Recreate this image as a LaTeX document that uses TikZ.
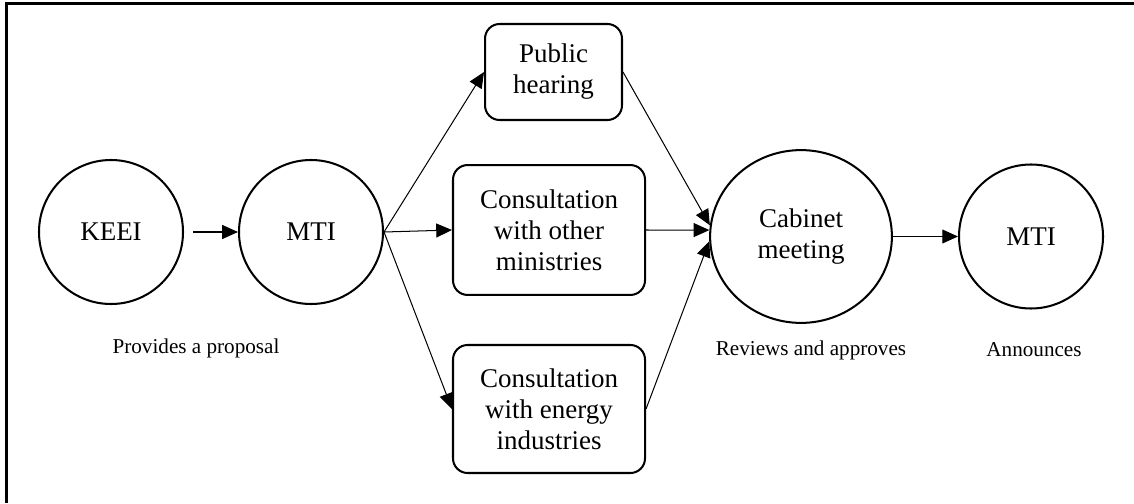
\documentclass[tikz,border=0pt]{standalone}
\usepackage{fontspec}
\setmainfont{Liberation Serif}
\usetikzlibrary{arrows.meta, positioning, shapes.geometric}

\begin{document}
\begin{tikzpicture}[
        x=0.01562cm, y=-0.01562cm,
        % Styles
        actor/.style={circle, draw, line width=0.9pt, minimum size=2.25cm, inner sep=0pt, align=center, font=\fontsize{12}{13.8}\selectfont},
        meeting/.style={ellipse, draw, line width=0.9pt, minimum width=2.84cm, minimum height=2.7cm, inner sep=0pt, align=center, font=\fontsize{12}{13.8}\selectfont},
        stage/.style={rectangle, draw, line width=0.9pt, rounded corners=6.5pt, align=center, inner sep=0pt, font=\fontsize{12}{13.8}\selectfont},
        role/.style={font=\fontsize{9.4}{11}\selectfont},
        line/.style={draw, line width=0.45pt, -{Triangle[length=7pt, width=6.2pt]}}
    ]
        \useasboundingbox (0,0) rectangle (1134,503);
        % Frame
        \draw [line width=1.3pt] (1134,3.5) -- (6.5,3.5) -- (6.5,503);

        % Nodes
        \node [actor] (keei) at (111,232) {KEEI};
        \node [actor] (mti) at (311,232) {MTI};
        \node [stage, minimum width=2.14cm, minimum height=1.5cm] (hearing) at (553.5,72) {Public\\hearing};
        \node [stage, minimum width=3cm, minimum height=2.03cm] (ministries) at (549,230) {Consultation\\with other\\ministries};
        \node [stage, minimum width=3cm, minimum height=2.0cm] (industries) at (549,409) {Consultation\\with energy\\industries};
        \node [meeting] (cabinet) at (801,236.5) {Cabinet\\meeting};
        \node [actor] (announce) at (1031,236.5) {MTI};

        \node [role] (lproposal) at (196,348) {Provides a proposal};
        \node [role] (lreview) at (811,350) {Reviews and approves};
        \node [role] (lannounce) at (1034,350) {Announces};

        % Paths
        \path [line] ([xshift=4]keei.east) -- (mti.west);
        \path [line] (mti.east) -- (hearing.west);
        \path [line] (mti.east) -- (ministries.west);
        \path [line] (mti.east) -- (industries.west);

        \path [line] (hearing.east) -- (cabinet.173);
        \path [line] (ministries.east) -- (cabinet.176);
        \path [line] (industries.east) -- (cabinet.183);

        \path [line] (cabinet.east) -- (announce.west);
    \end{tikzpicture}
\end{document}
